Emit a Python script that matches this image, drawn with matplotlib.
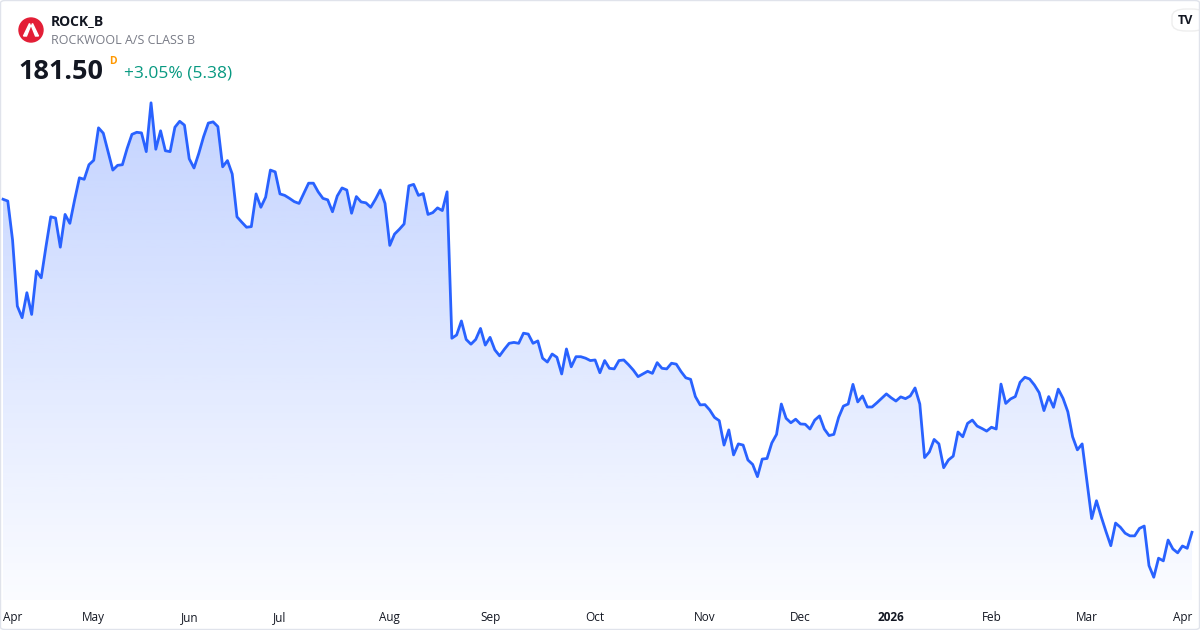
import numpy as np
import pandas as pd
import matplotlib
matplotlib.use("Agg")
import matplotlib.pyplot as plt
from matplotlib.patches import Ellipse, Polygon, FancyBboxPatch

plt.rcParams['font.family'] = ['Open Sans', 'DejaVu Sans']

# daily closes ROCK_B, Apr 2025 - Apr 2026
prices = [
    293.4, 292.8, 279.7, 257.5, 253.6, 262.0, 254.7, 269.3, 267.0, 277.5,
    287.5, 287.1, 277.3, 288.3, 285.3, 293.2, 300.6, 300.1, 305.0, 306.5,
    317.4, 315.6, 309.4, 303.2, 304.8, 305.0, 310.5, 315.2, 315.9, 315.7,
    309.4, 325.8, 310.2, 316.4, 309.7, 309.4, 317.6, 319.6, 318.3, 307.0,
    303.9, 308.8, 314.4, 319.0, 319.4, 317.8, 304.3, 306.4, 301.9, 287.5,
    285.7, 284.0, 284.2, 295.2, 290.7, 294.1, 303.2, 302.6, 295.2, 294.7,
    293.7, 292.6, 292.0, 295.4, 298.8, 298.8, 295.9, 293.7, 293.2, 289.2,
    294.5, 297.2, 296.5, 288.7, 294.3, 292.5, 292.2, 290.7, 293.4, 296.5,
    292.0, 277.9, 281.7, 283.3, 285.1, 297.9, 298.4, 294.7, 295.3, 288.3,
    288.9, 290.5, 289.6, 295.9, 246.7, 247.8, 252.5, 246.3, 244.7, 246.3,
    250.0, 244.4, 247.0, 242.8, 240.8, 243.0, 245.0, 245.3, 245.0, 248.4,
    248.1, 245.0, 245.8, 240.0, 238.7, 241.4, 240.3, 234.7, 243.1, 237.1,
    240.5, 240.5, 240.0, 239.2, 239.4, 235.1, 239.2, 236.6, 236.4, 239.2,
    239.4, 237.8, 236.0, 233.8, 234.7, 235.6, 234.9, 238.5, 236.6, 236.4,
    238.3, 238.0, 235.5, 233.4, 232.9, 227.1, 224.3, 224.4, 222.6, 220.1,
    219.0, 210.8, 215.9, 207.5, 211.2, 210.8, 205.8, 204.3, 200.2, 206.1,
    206.3, 211.5, 214.4, 224.6, 219.8, 218.3, 219.5, 217.9, 217.8, 216.2,
    219.2, 220.6, 216.2, 214.0, 214.4, 220.1, 223.9, 224.6, 231.2, 225.3,
    227.3, 223.6, 223.6, 225.0, 226.5, 228.0, 226.7, 225.6, 227.0, 226.4,
    227.3, 230.0, 224.6, 206.6, 208.5, 212.7, 211.2, 203.2, 205.8, 207.1,
    215.2, 213.6, 218.1, 219.2, 217.2, 216.4, 215.5, 216.8, 216.2, 231.3,
    224.8, 226.3, 227.1, 231.9, 233.6, 233.0, 231.0, 228.4, 222.4, 227.1,
    223.5, 229.6, 226.5, 222.0, 213.6, 209.2, 211.2, 198.6, 186.1, 192.1,
    186.7, 181.7, 177.0, 184.6, 183.2, 181.2, 180.3, 180.3, 182.8, 183.6,
    170.3, 166.4, 172.8, 171.9, 178.9, 175.9, 174.6, 176.9, 176.12, 181.5,
]

holidays = ['2025-04-17', '2025-04-18', '2025-04-21', '2025-05-29', '2025-05-30',
            '2025-06-05', '2025-06-09', '2025-12-24', '2025-12-25', '2025-12-26',
            '2025-12-31', '2026-01-01']
dates = pd.bdate_range('2025-04-01', '2026-04-01')
dates = dates[~dates.isin(pd.to_datetime(holidays))][:len(prices)]

ticker = 'ROCK_B'
name = 'ROCKWOOL A/S CLASS B'
last = prices[-1]
chg = prices[-1] - prices[-2]
pct = chg / prices[-2] * 100

blue = '#2962ff'

fig = plt.figure(figsize=(12, 6.3), dpi=100)
ax = fig.add_axes([0, 30 / 630, 1, 600 / 630])

x = np.arange(len(prices))
y = np.array(prices)
ymin, ymax = 158.75, 360.35
ax.set_xlim(-0.63, len(prices) - 1 + 1.68)
ax.set_ylim(ymin, ymax)

# gradient area under the line
poly = ax.fill_between(x, y, ymin, color='none', lw=0)
grad = np.zeros((256, 1, 4))
grad[:, 0, :3] = matplotlib.colors.to_rgb(blue)
top_v = max(prices)
grad[:, 0, 3] = np.linspace(0.02, 0.28, 256)
im = ax.imshow(grad, aspect='auto', origin='lower',
               extent=[x[0], x[-1], ymin, top_v], zorder=1)
path = poly.get_paths()[0]
im.set_clip_path(path, transform=ax.transData)
ax.plot(x, y, color=blue, lw=2, zorder=2, solid_joinstyle='round')

# month ticks
ticks, labels = [], []
prev = None
for i, d in enumerate(dates):
    if prev is None or d.month != prev:
        ticks.append(i)
        labels.append(str(d.year) if d.month == 1 else d.strftime('%b'))
    prev = d.month
ax.set_xticks(ticks)
ax.set_xticklabels(labels, fontsize=8.5, color='#131722')
ax.tick_params(axis='x', length=0, pad=8)
ax.set_yticks([])
for s in ax.spines.values():
    s.set_visible(False)
tl = ax.get_xticklabels()
tl[0].set_ha('left')
tl[-1].set_ha('right')
for t in tl:
    if t.get_text() == '2026':
        t.set_fontweight('bold')

# header
W, H = 1200, 630
def fx(px):
    return px / W
def fy(py):
    return 1 - py / H

fig.patches.append(Ellipse((fx(31), fy(30)), 24 / W, 24 / H, transform=fig.transFigure,
                           color='#e31e36', zorder=5))
# logo glyph
fig.patches.append(Polygon([(fx(23.5), fy(36)), (fx(29.5), fy(23.5)), (fx(30.5), fy(26)),
                            (fx(26.5), fy(36))], closed=True, transform=fig.transFigure,
                           color='white', zorder=6))
fig.patches.append(Polygon([(fx(38.5), fy(36)), (fx(32.5), fy(23.5)), (fx(31.5), fy(26)),
                            (fx(35.5), fy(36))], closed=True, transform=fig.transFigure,
                           color='white', zorder=6))

fig.text(fx(51), fy(21), ticker, fontsize=10, fontweight='bold', color='#131722',
         va='center', ha='left')
fig.text(fx(51), fy(40), name, fontsize=9, color='#787b86', va='center', ha='left')
fig.text(fx(18), fy(72), f'{last:.2f}', fontsize=19.5, fontweight='bold',
         color='#131722', va='center', ha='left')
fig.text(fx(109), fy(61), 'D', fontsize=7.5, fontweight='bold', color='#ff9800',
         va='center', ha='left')
fig.text(fx(124), fy(74), f'+{pct:.2f}% ({chg:.2f})', fontsize=12.5, color='#089981',
         va='center', ha='left')

# TradingView badge
fig.patches.append(FancyBboxPatch((fx(1172), fy(31)), 34 / W, 22 / H,
                                  boxstyle='round,pad=0,rounding_size=0.012',
                                  transform=fig.transFigure, facecolor='white',
                                  edgecolor='#eeeeee', lw=1, zorder=5))
fig.text(fx(1185), fy(20), 'TV', fontsize=9, fontweight='bold', color='#131722',
         va='center', ha='center', zorder=6)

# outer border
fig.patches.append(FancyBboxPatch((0.5 / W, 0.5 / H), 1 - 1 / W, 1 - 1 / H,
                                  boxstyle='round,pad=0,rounding_size=0.004',
                                  transform=fig.transFigure, facecolor='none',
                                  edgecolor='#e0e3eb', lw=1, zorder=10))

fig.savefig('out.png', dpi=100)
